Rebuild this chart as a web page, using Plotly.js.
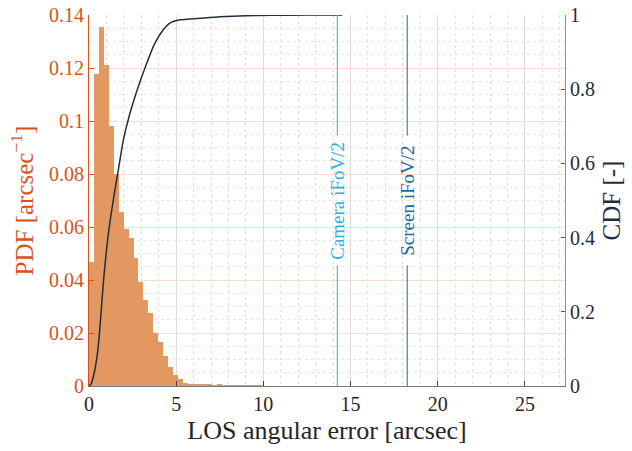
<!DOCTYPE html>
<html>
<head>
<meta charset="utf-8">
<script src="https://cdn.plot.ly/plotly-3.0.1.min.js"></script>
<style>html,body{margin:0;padding:0;background:#fff;}#chart{width:632px;height:451px;}</style>
</head>
<body>
<div id="chart"></div>
<script>
// Histogram bin centres [arcsec] and PDF values (probability per bin)
const binCenters = [0.14, 0.42, 0.71, 0.99, 1.27, 1.56, 1.84, 2.12, 2.41, 2.69,
  2.97, 3.25, 3.54, 3.82, 4.10, 4.39, 4.67, 4.95, 5.24, 5.52,
  5.80, 6.09, 6.37, 6.65, 6.93, 7.22, 7.50, 7.78, 8.07, 8.35,
  8.63, 8.92, 9.20, 9.48, 9.76, 10.05, 10.33, 10.61, 10.90, 11.18];
const pdfValues = [0.0468, 0.1177, 0.1356, 0.1210, 0.0981, 0.0800, 0.0656, 0.0592, 0.0558, 0.0484,
  0.0392, 0.0325, 0.0274, 0.0199, 0.0166, 0.0114, 0.0073, 0.0043, 0.0025, 0.0012,
  0.0007, 0.0006, 0.0007, 0.0007, 0.0006, 0.0005, 0.0006, 0.0005, 0.0004, 0.0004,
  0.0003, 0.0004, 0.0003, 0.0002, 0.0002, 0.0001, 0.0001, 0.0001, 0.0000, 0.0001];

// CDF curve
const cdfX = [0, 0.12, 0.25, 0.4, 0.53, 0.68, 0.82, 1.11, 1.39, 1.68, 1.97, 2.35, 2.83, 3.31, 3.78, 4.26, 4.64, 5.22, 6.36, 7.5, 9.0, 10.5, 12.5, 14.54];
const cdfY = [0, 0.006, 0.025, 0.06, 0.106, 0.19, 0.277, 0.41, 0.50, 0.582, 0.663, 0.735, 0.807, 0.87, 0.924, 0.96, 0.978, 0.987, 0.991, 0.995, 0.998, 0.999, 1.0, 1.0];

// Reference lines [arcsec]
const refNames = ['Camera iFoV/2', 'Screen iFoV/2'];
const refValues = [14.24, 18.25];
const refColors = ['#2FAEE6', '#1F67A3'];

// Tick labels
const xTicks = [0, 5, 10, 15, 20, 25];
const yTicks = [0, 0.02, 0.04, 0.06, 0.08, 0.1, 0.12, 0.14];
const y2Ticks = [0, 0.2, 0.4, 0.6, 0.8, 1];

const serif = 'Liberation Serif, DejaVu Serif, serif';
const orange = '#D95319';
const navy = '#1E2E3E';

const traces = [
  {
    type: 'bar', x: binCenters, y: pdfValues, width: 0.292,
    marker: {color: '#E39862', line: {width: 0}},
    yaxis: 'y', hoverinfo: 'skip'
  },
  {
    type: 'scatter', mode: 'lines', x: cdfX, y: cdfY, yaxis: 'y2',
    line: {color: navy, width: 1.5, shape: 'spline', smoothing: 0.6}
  }
];

const shapes = [];
const annotations = [];
refValues.forEach((v, i) => {
  shapes.push({type: 'line', xref: 'x', yref: 'paper', x0: v, x1: v, y0: 0, y1: 0.325,
    line: {color: refColors[i], width: 1}});
  shapes.push({type: 'line', xref: 'x', yref: 'paper', x0: v, x1: v, y0: 0.675, y1: 1,
    line: {color: refColors[i], width: 1}});
  annotations.push({text: refNames[i], x: v, xref: 'x', y: 0.5, yref: 'paper',
    showarrow: false, textangle: -90, xanchor: 'center', yanchor: 'middle',
    font: {family: serif, size: 19, color: refColors[i]}});
});

const layout = {
  width: 632, height: 451,
  margin: {l: 89, r: 67, t: 15, b: 65},
  paper_bgcolor: '#fff', plot_bgcolor: '#fff',
  showlegend: false, bargap: 0,
  xaxis: {
    range: [0, 27.3], tickvals: xTicks, ticktext: xTicks.map(String),
    ticks: 'inside', ticklen: 5, tickcolor: '#444', showline: true, linecolor: '#777', linewidth: 1,
    showgrid: true, gridcolor: '#DCDCDC', gridwidth: 1, zeroline: false,
    minor: {dtick: 1, showgrid: true, gridcolor: '#E2E2E2', griddash: 'dot', gridwidth: 1},
    tickfont: {family: serif, size: 20, color: '#262626'},
    title: {text: 'LOS angular error [arcsec]', font: {family: serif, size: 26, color: '#262626'}, standoff: 6}
  },
  yaxis: {
    range: [0, 0.14], tickvals: yTicks, ticktext: yTicks.map(String),
    ticks: 'inside', ticklen: 5, tickcolor: orange, showline: true, linecolor: orange, linewidth: 1,
    showgrid: true, gridcolor: '#F9DDCF', gridwidth: 1, zeroline: false,
    minor: {dtick: 0.005, showgrid: true, gridcolor: '#F0E2DC', griddash: 'dot', gridwidth: 1},
    tickfont: {family: serif, size: 20, color: orange},
    title: {text: 'PDF [arcsec<sup>−1</sup>]', font: {family: serif, size: 25, color: orange}, standoff: 8}
  },
  yaxis2: {
    overlaying: 'y', side: 'right', range: [0, 1], tickvals: y2Ticks, ticktext: y2Ticks.map(String),
    ticks: 'inside', ticklen: 4, tickcolor: '#555', showline: true, linecolor: '#8A939C', linewidth: 1,
    showgrid: false, zeroline: false,
    tickfont: {family: serif, size: 20, color: navy},
    title: {text: 'CDF [-]', font: {family: serif, size: 25, color: navy}, standoff: 8}
  },
  shapes: shapes,
  annotations: annotations
};

Plotly.newPlot('chart', traces, layout, {displayModeBar: false, staticPlot: true});
</script>
</body>
</html>
